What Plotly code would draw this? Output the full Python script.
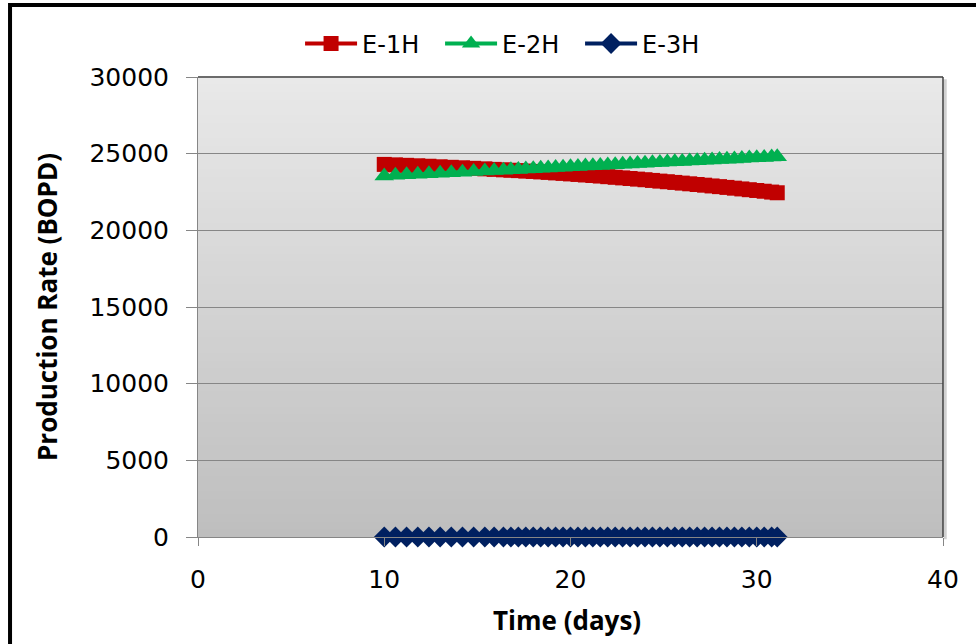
import plotly.graph_objects as go

# Simulation time (days)
time_days = [10.0, 10.6, 11.2, 11.8, 12.4, 13.0, 13.6, 14.2, 14.8, 15.4,
             15.9, 16.4, 16.8, 17.2, 17.6, 18.0, 18.4, 18.8, 19.2, 19.6,
             20.0, 20.4, 20.8, 21.2, 21.6, 22.0, 22.4, 22.8, 23.2, 23.6,
             24.0, 24.4, 24.8, 25.2, 25.6, 26.0, 26.4, 26.8, 27.2, 27.6,
             28.0, 28.4, 28.8, 29.2, 29.6, 30.0, 30.4, 30.8, 31.1]

# Production rates (BOPD) per well
e1h = [24300, 24270, 24240, 24210, 24180, 24145, 24110, 24080, 24045, 24010,
       23975, 23945, 23920, 23895, 23865, 23840, 23810, 23780, 23745, 23715,
       23680, 23645, 23610, 23575, 23540, 23500, 23460, 23420, 23380, 23340,
       23300, 23255, 23210, 23170, 23125, 23080, 23035, 22990, 22945, 22895,
       22850, 22800, 22750, 22700, 22650, 22600, 22550, 22495, 22450]

e2h = [23550, 23585, 23620, 23655, 23690, 23725, 23760, 23795, 23830, 23865,
       23895, 23925, 23950, 23975, 23995, 24020, 24045, 24070, 24095, 24115,
       24140, 24165, 24190, 24210, 24235, 24260, 24285, 24305, 24330, 24355,
       24380, 24400, 24425, 24450, 24475, 24495, 24520, 24545, 24570, 24590,
       24615, 24640, 24660, 24685, 24710, 24735, 24755, 24780, 24795]

e3h = [0] * len(time_days)

series_names = ["E-1H", "E-2H", "E-3H"]
y_ticks = [0, 5000, 10000, 15000, 20000, 25000, 30000]
x_ticks = [0, 10, 20, 30, 40]

fig = go.Figure()
fig.add_trace(go.Scatter(
    x=time_days, y=e1h, name=series_names[0], mode="lines+markers",
    line=dict(color="#C00000", width=4),
    marker=dict(symbol="square", size=15, color="#C00000")))
fig.add_trace(go.Scatter(
    x=time_days, y=e2h, name=series_names[1], mode="lines+markers",
    line=dict(color="#00B050", width=4),
    marker=dict(symbol="triangle-up", size=17, color="#00B050")))
fig.add_trace(go.Scatter(
    x=time_days, y=e3h, name=series_names[2], mode="lines+markers",
    line=dict(color="#002060", width=4),
    marker=dict(symbol="diamond", size=16, color="#002060"),
    cliponaxis=False))

# Vertical gradient for the plot background (light at top, darker at bottom)
shapes = []
n_strips = 60
top_rgb = (233, 233, 233)
bot_rgb = (190, 190, 190)
for i in range(n_strips):
    f = (i + 0.5) / n_strips
    c = tuple(round(bot_rgb[k] + (top_rgb[k] - bot_rgb[k]) * f) for k in range(3))
    shapes.append(dict(
        type="rect", xref="x domain", yref="y domain",
        x0=0, x1=1, y0=i / n_strips, y1=(i + 1) / n_strips + 0.002,
        fillcolor="rgb(%d,%d,%d)" % c, line=dict(width=0), layer="below"))

# Dark top and right edges of the plot area
shapes.append(dict(type="line", xref="x domain", yref="y domain",
                   x0=0, x1=1, y0=1, y1=1, line=dict(color="#404040", width=1.5)))
shapes.append(dict(type="line", xref="x domain", yref="y domain",
                   x0=1, x1=1, y0=0, y1=1, line=dict(color="#404040", width=1.5)))
# Soft shadow right of the plot area
shapes.append(dict(type="line", xref="x domain", yref="y domain",
                   x0=1.003, x1=1.003, y0=-0.005, y1=0.995,
                   line=dict(color="rgba(0,0,0,0.18)", width=3)))

# Outer chart frame
shapes.append(dict(type="rect", xref="paper", yref="paper",
                   x0=-0.2523, x1=1.08, y0=-0.3, y1=1.1565,
                   line=dict(color="black", width=4), fillcolor="rgba(0,0,0,0)",
                   layer="above"))

title_font = dict(family="Open Sans", size=26, color="black")
annotations = [
    dict(text="<b>Production Rate (BOPD)</b>", xref="paper", yref="paper",
         x=-0.2027, y=0.5, xanchor="center", yanchor="middle", textangle=-90,
         showarrow=False, font=title_font),
    dict(text="<b>Time (days)</b>", xref="paper", yref="paper",
         x=0.4953, y=-0.1804, xanchor="center", yanchor="middle",
         showarrow=False, font=title_font),
]

fig.update_layout(
    width=976, height=644,
    margin=dict(l=198, r=33, t=77, b=107),
    paper_bgcolor="white",
    plot_bgcolor="rgba(0,0,0,0)",
    font=dict(family="DejaVu Sans", color="black", size=22),
    showlegend=True,
    legend=dict(orientation="h", x=0.137, xanchor="left", y=1.072, yanchor="middle",
                font=dict(family="DejaVu Sans", size=24), bgcolor="rgba(0,0,0,0)",
                itemwidth=52, entrywidth=73, entrywidthmode="pixels"),
    shapes=shapes,
    annotations=annotations,
    xaxis=dict(
        range=[0, 40], tickvals=x_ticks, ticktext=[str(v) for v in x_ticks],
        showgrid=False, zeroline=False,
        showline=True, linecolor="#868686", linewidth=1,
        ticks="outside", ticklen=8, tickcolor="#868686",
        ticklabelstandoff=12,
        tickfont=dict(family="DejaVu Sans", size=25)),
    yaxis=dict(
        range=[0, 30000], tickvals=y_ticks, ticktext=[str(v) for v in y_ticks],
        showgrid=True, gridcolor="#868686", gridwidth=1, zeroline=False,
        showline=True, linecolor="#868686", linewidth=1,
        ticks="outside", ticklen=11, tickcolor="#868686",
        ticklabelstandoff=12,
        tickfont=dict(family="DejaVu Sans", size=25)),
)

fig.write_html("out.html")
